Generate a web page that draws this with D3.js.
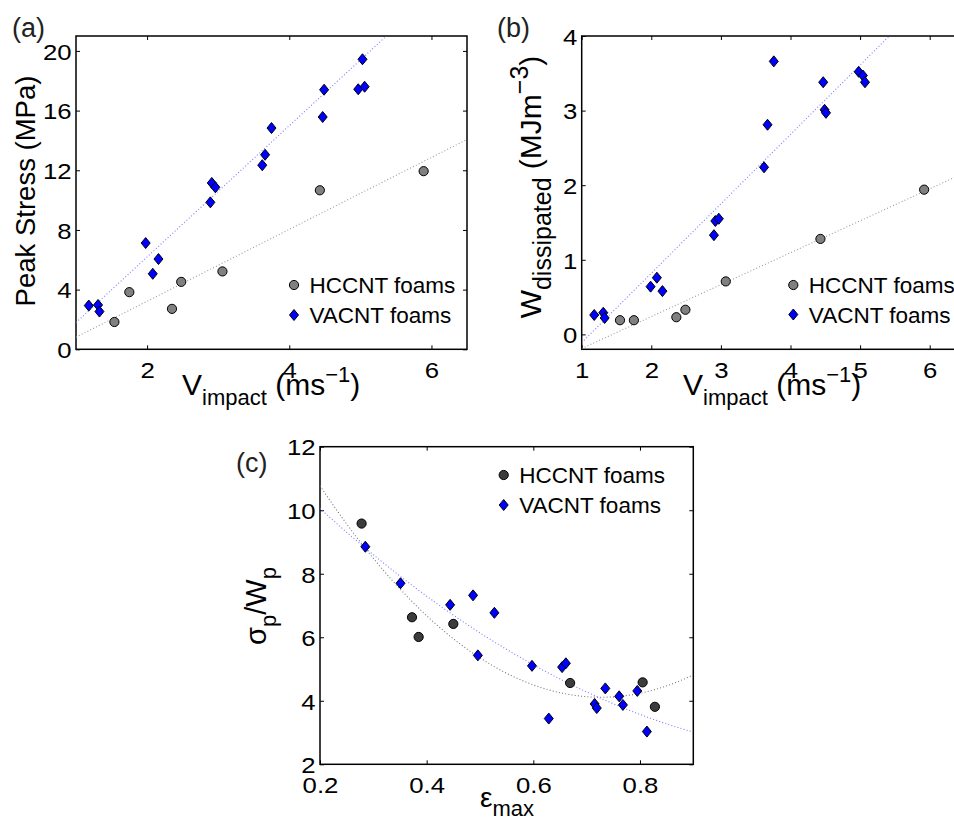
<!DOCTYPE html>
<html>
<head>
<meta charset="utf-8">
<script src="https://cdn.jsdelivr.net/npm/d3@7"></script>
<style>
  html, body { margin: 0; padding: 0; background: #fff; }
  svg { display: block; font-family: "Liberation Sans", Arial, Helvetica, sans-serif; }
</style>
</head>
<body>
<svg id="chart" width="954" height="821"></svg>
<script>
// ---- (a) peak stress vs impact velocity ----
const aHccntV = [1.54, 1.75, 2.35, 2.48, 3.06, 4.43, 5.89];
const aHccntS = [1.83, 3.83, 2.71, 4.52, 5.22, 10.66, 11.94];
const aVacntV = [1.18, 1.31, 1.33, 1.98, 2.08, 2.16, 2.89, 2.91, 2.96, 3.62, 3.66, 3.75, 4.47, 4.49, 4.97, 5.06, 5.03];
const aVacntS = [2.93, 2.97, 2.53, 7.12, 5.06, 6.05, 9.85, 11.15, 10.86, 12.34, 13.04, 14.83, 15.57, 17.40, 17.43, 17.60, 19.44];
// linear fits [slope, intercept]
const aHccntFit = [2.41, -1.60];
const aVacntFit = [4.40, -2.61];
const aXTicks = [2, 4, 6];
const aYTicks = [0, 4, 8, 12, 16, 20];

// ---- (b) dissipated energy vs impact velocity ----
const bHccntV = [1.55, 1.75, 2.36, 2.49, 3.07, 4.43, 5.92];
const bHccntW = [0.19, 0.19, 0.23, 0.33, 0.71, 1.28, 1.94];
const bVacntV = [1.18, 1.31, 1.33, 1.99, 2.08, 2.16, 2.90, 2.92, 2.97, 3.62, 3.67, 3.76, 4.47, 4.49, 4.51, 4.98, 5.04, 5.07];
const bVacntW = [0.26, 0.29, 0.22, 0.64, 0.76, 0.58, 1.33, 1.52, 1.55, 2.24, 2.81, 3.66, 3.38, 3.01, 2.97, 3.52, 3.47, 3.38];
const bHccntFit = [0.428, -0.617];
const bVacntFit = [0.93, -1.04];
const bXTicks = [1, 2, 3, 4, 5, 6];
const bYTicks = [0, 1, 2, 3, 4];

// ---- (c) sigma_p / W_p vs maximum strain ----
const cHccntE = [0.278, 0.3725, 0.385, 0.45, 0.669, 0.805, 0.828];
const cHccntR = [9.58, 6.63, 6.01, 6.42, 4.56, 4.58, 3.81];
const cVacntE = [0.285, 0.351, 0.444, 0.487, 0.527, 0.496, 0.5975, 0.654, 0.661, 0.629, 0.715, 0.719, 0.735, 0.761, 0.768, 0.795, 0.813];
const cVacntR = [8.85, 7.70, 7.02, 7.32, 6.77, 5.43, 5.10, 5.06, 5.18, 3.44, 3.90, 3.77, 4.39, 4.14, 3.87, 4.31, 3.03];
// quadratic fits [c0, c1, c2]
const cHccntFit = [16.775, -34.81, 23.92];
const cVacntFit = [13.41, -18.28, 7.476];
const cXTicks = [0.2, 0.4, 0.6, 0.8];
const cYTicks = [2, 4, 6, 8, 10, 12];

const legendNames = ["HCCNT foams", "VACNT foams"];

const svg = d3.select("#chart");
const defs = svg.append("defs");

function zip(xs, ys) { return xs.map((x, i) => [x, ys[i]]); }
function poly(c) { return x => c.reduce((s, ci, k) => s + ci * Math.pow(x, k), 0); }
function lin(c) { return x => c[0] * x + c[1]; }

function diamondPath(cx, cy) {
  const hw = 4.5, hh = 5.5;
  return `M${cx},${cy - hh}L${cx + hw},${cy}L${cx},${cy + hh}L${cx - hw},${cy}Z`;
}

function panel(cfg) {
  const x = d3.scaleLinear().domain(cfg.xDomain).range([cfg.left, cfg.right]);
  const y = d3.scaleLinear().domain(cfg.yDomain).range([cfg.bottom, cfg.top]);
  const g = svg.append("g");

  const clipId = "clip-" + cfg.id;
  defs.append("clipPath").attr("id", clipId)
    .append("rect")
    .attr("x", cfg.left).attr("y", cfg.top)
    .attr("width", cfg.right - cfg.left).attr("height", cfg.bottom - cfg.top);

  // axes: labelled bottom/left, bare top/right, all with inward ticks
  const fmt = cfg.tickFormat || (d => d);
  const bottomAxis = g.append("g").attr("transform", `translate(0,${cfg.bottom})`)
    .call(d3.axisBottom(x).tickValues(cfg.xTicks).tickSizeInner(-4).tickSizeOuter(0).tickPadding(12).tickFormat(fmt));
  const leftAxis = g.append("g").attr("transform", `translate(${cfg.left},0)`)
    .call(d3.axisLeft(y).tickValues(cfg.yTicks).tickSizeInner(-4).tickSizeOuter(0).tickPadding(4).tickFormat(fmt));
  g.append("g").attr("transform", `translate(0,${cfg.top})`)
    .call(d3.axisTop(x).tickValues(cfg.xTicks).tickSizeInner(-4).tickSizeOuter(0).tickFormat(""));
  g.append("g").attr("transform", `translate(${cfg.right},0)`)
    .call(d3.axisRight(y).tickValues(cfg.yTicks).tickSizeInner(-4).tickSizeOuter(0).tickFormat(""));
  g.selectAll(".domain").remove();
  g.selectAll(".tick line").attr("stroke", "#000").attr("stroke-width", 1);
  g.selectAll(".tick text").attr("font-size", 23).attr("fill", "#000")
    .attr("font-family", "'Liberation Sans', Arial, sans-serif")
    .attr("transform", "scale(1.12,1)");
  bottomAxis.selectAll(".tick text").attr("dy", "0.72em");
  leftAxis.selectAll(".tick text").attr("dy", "0.36em");

  g.append("rect")
    .attr("x", cfg.left).attr("y", cfg.top)
    .attr("width", cfg.right - cfg.left).attr("height", cfg.bottom - cfg.top)
    .attr("fill", "none").attr("stroke", "#000").attr("stroke-width", 1.5);

  // fitted trend curves
  const fitG = g.append("g").attr("clip-path", `url(#${clipId})`);
  const xs = d3.range(0, 201).map(i => cfg.xDomain[0] + (cfg.xDomain[1] - cfg.xDomain[0]) * i / 200);
  const line = d3.line().x(d => x(d[0])).y(d => y(d[1]));
  cfg.fits.forEach(f => {
    fitG.append("path")
      .attr("d", line(xs.map(v => [v, f.fn(v)])))
      .attr("fill", "none").attr("stroke", f.color).attr("stroke-width", 1.1)
      .attr("stroke-dasharray", "1,2.2");
  });

  // data markers
  g.append("g").selectAll("circle").data(cfg.circles).join("circle")
    .attr("cx", d => x(d[0])).attr("cy", d => y(d[1])).attr("r", 4.6)
    .attr("fill", cfg.circleFill).attr("stroke", "#000").attr("stroke-width", 1);
  g.append("g").selectAll("path").data(cfg.diamonds).join("path")
    .attr("d", d => diamondPath(x(d[0]), y(d[1])))
    .attr("fill", "#0000ff").attr("stroke", "#000").attr("stroke-width", 1);

  // legend
  const L = cfg.legend;
  g.append("circle").attr("cx", L.x).attr("cy", L.y).attr("r", 4.6)
    .attr("fill", cfg.circleFill).attr("stroke", "#000").attr("stroke-width", 1);
  g.append("path").attr("d", diamondPath(L.x, L.y + L.gap))
    .attr("fill", "#0000ff").attr("stroke", "#000").attr("stroke-width", 1);
  legendNames.forEach((name, i) => {
    g.append("text").attr("x", L.x + 15.5).attr("y", L.y + i * L.gap).attr("dy", "0.36em")
      .attr("font-size", 22.5).text(name);
  });

  // panel tag
  g.append("text").attr("x", cfg.tag.x).attr("y", cfg.tag.y)
    .attr("font-size", 27).attr("fill", "#222").text(cfg.tag.text);
  return g;
}

// label helper: tspans with sub/superscripts
function richLabel(parent, parts, opts) {
  const t = parent.append("text")
    .attr("font-size", opts.size)
    .attr("text-anchor", opts.anchor || "start")
    .attr("transform", opts.transform);
  let shift = 0;
  parts.forEach(p => {
    const want = p.sub ? 0.33 * opts.size : (p.sup ? -0.42 * opts.size : 0);
    t.append("tspan")
      .attr("font-size", p.sub || p.sup ? opts.small : opts.size)
      .attr("dy", want - shift)
      .text(p.t);
    shift = want;
  });
  return t;
}

const gA = panel({
  id: "a", left: 76, right: 467, top: 36, bottom: 349.3,
  xDomain: [1, 6.5], yDomain: [0, 21], xTicks: aXTicks, yTicks: aYTicks,
  circles: zip(aHccntV, aHccntS), diamonds: zip(aVacntV, aVacntS), circleFill: "#808080",
  fits: [{ fn: lin(aHccntFit), color: "#9a9a9a" }, { fn: lin(aVacntFit), color: "#7b7bff" }],
  legend: { x: 294, y: 285, gap: 30 },
  tag: { x: 12, y: 37, text: "(a)" }
});

const gB = panel({
  id: "b", left: 581.7, right: 964.5, top: 36, bottom: 349.3,
  xDomain: [1, 6.5], yDomain: [-0.2, 4], xTicks: bXTicks, yTicks: bYTicks,
  circles: zip(bHccntV, bHccntW), diamonds: zip(bVacntV, bVacntW), circleFill: "#808080",
  fits: [{ fn: lin(bHccntFit), color: "#9a9a9a" }, { fn: lin(bVacntFit), color: "#7b7bff" }],
  legend: { x: 793.3, y: 285, gap: 29.5 },
  tag: { x: 497, y: 37, text: "(b)" }
});

const gC = panel({
  id: "c", left: 320, right: 693.3, top: 446.7, bottom: 764.3,
  xDomain: [0.2, 0.9], yDomain: [2, 12], xTicks: cXTicks, yTicks: cYTicks,
  tickFormat: d => (d < 1 ? d.toFixed(1) : d),
  circles: zip(cHccntE, cHccntR), diamonds: zip(cVacntE, cVacntR), circleFill: "#3c3c3c",
  fits: [{ fn: poly(cHccntFit), color: "#777" }, { fn: poly(cVacntFit), color: "#7b7bff" }],
  legend: { x: 503.7, y: 475, gap: 30 },
  tag: { x: 236, y: 472, text: "(c)" }
});

// axis titles
richLabel(gA, [{ t: "V" }, { t: "impact", sub: true }, { t: " (ms" }, { t: "\u22121", sup: true }, { t: ")" }],
  { size: 30, small: 22, transform: "translate(182,395)" });
gA.append("text").attr("font-size", 27.5).attr("text-anchor", "middle")
  .attr("transform", "translate(35,191) rotate(-90)").text("Peak Stress (MPa)");

richLabel(gB, [{ t: "V" }, { t: "impact", sub: true }, { t: " (ms" }, { t: "\u22121", sup: true }, { t: ")" }],
  { size: 30, small: 22, transform: "translate(683,395)" });
richLabel(gB, [{ t: "W" }, { t: "dissipated", sub: true }, { t: " (MJm" }, { t: "\u22123", sup: true }, { t: ")" }],
  { size: 30, small: 25, anchor: "middle", transform: "translate(541,187) rotate(-90)" });

richLabel(gC, [{ t: "\u03c3" }, { t: "p", sub: true }, { t: "/W" }, { t: "p", sub: true }],
  { size: 29, small: 22, anchor: "middle", transform: "translate(266,606) rotate(-90)" });
richLabel(gC, [{ t: "\u03b5" }, { t: "max", sub: true }],
  { size: 28, small: 22, anchor: "middle", transform: "translate(507,807)" });
</script>
</body>
</html>
